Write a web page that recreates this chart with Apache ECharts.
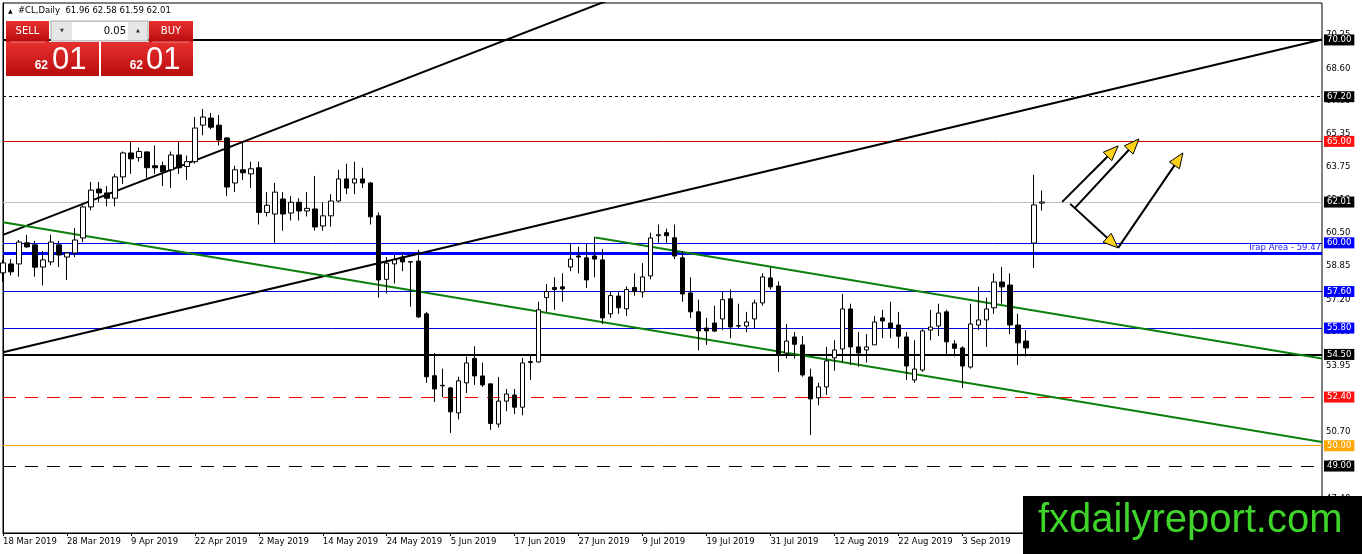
<!DOCTYPE html>
<html>
<head>
<meta charset="utf-8">
<title>#CL,Daily</title>
<script src="https://cdn.jsdelivr.net/npm/echarts@6.0.0/dist/echarts.min.js"></script>
<style>
  *{margin:0;padding:0;}
  html,body{width:1362px;height:554px;background:#fff;overflow:hidden;}
  #main{width:1362px;height:554px;}
</style>
</head>
<body>
<div id="main"></div>
<script>
var FONT = "'DejaVu Sans', sans-serif";

// date labels, one every 8 bars
var dateLabels = ['18 Mar 2019', '28 Mar 2019', '9 Apr 2019', '22 Apr 2019', '2 May 2019',
  '14 May 2019', '24 May 2019', '5 Jun 2019', '17 Jun 2019', '27 Jun 2019', '9 Jul 2019',
  '19 Jul 2019', '31 Jul 2019', '12 Aug 2019', '22 Aug 2019', '3 Sep 2019'];
var slotCount = 166; // bars + empty space on the right

// daily OHLC
var opens = [58.52,58.96,58.96,60.00,59.90,58.81,59.06,59.90,59.30,59.50,
  60.24,61.77,62.65,62.46,62.20,63.25,64.43,64.20,64.48,63.80,
  63.80,63.60,64.33,63.76,64.00,65.80,66.15,65.80,65.17,62.95,
  63.60,63.40,63.70,61.50,61.42,62.16,61.47,62.00,61.57,61.67,
  60.83,61.33,62.06,63.15,62.95,63.15,62.95,61.33,58.20,58.96,
  59.30,59.05,59.10,56.50,53.45,52.98,52.85,51.62,53.10,54.30,
  53.44,53.05,51.07,52.20,52.50,51.90,54.10,54.13,57.30,57.80,
  57.83,58.81,59.35,59.26,59.35,59.16,56.50,57.38,56.75,57.80,
  57.58,58.37,60.35,60.50,60.25,59.26,57.53,56.60,55.80,56.05,
  56.25,57.24,55.90,55.90,56.25,57.04,58.27,57.87,54.57,55.36,
  54.97,53.39,52.36,52.90,54.33,54.77,56.74,54.87,54.72,54.97,
  56.30,56.05,55.95,55.36,53.24,53.73,55.70,55.90,56.60,55.02,
  54.82,53.88,55.95,56.20,56.80,58.07,57.92,55.95,55.16,59.99,
  61.96];
var closes = [59.01,58.57,60.04,59.80,58.80,59.16,60.04,59.40,59.50,60.14,
  61.77,62.60,62.46,62.20,63.25,64.43,64.14,64.50,63.70,63.70,
  63.50,64.33,63.70,64.00,65.66,66.20,65.70,65.07,62.75,63.60,
  63.45,63.65,61.50,61.85,62.50,61.42,62.00,61.57,61.70,60.78,
  61.33,62.06,63.15,62.70,63.15,62.95,61.28,58.17,59.00,59.16,
  59.06,59.07,56.35,53.40,52.80,52.95,51.67,53.20,54.08,53.44,
  53.00,51.10,52.20,52.55,51.90,54.08,54.15,56.70,57.60,57.70,
  57.73,59.20,59.30,58.17,59.20,56.30,57.40,56.80,57.70,57.60,
  58.32,60.24,60.40,60.35,59.35,57.48,56.60,55.66,55.66,55.65,
  57.20,55.85,55.92,56.10,57.04,58.32,57.83,54.48,55.16,55.00,
  53.49,52.31,52.90,54.18,54.72,56.74,54.87,54.57,54.87,56.10,
  56.15,55.80,55.40,53.93,53.78,55.66,55.85,56.54,55.12,54.80,
  53.93,56.00,56.20,56.74,58.07,57.83,55.95,55.07,54.82,61.87,
  62.01];
var lows = [58.07,58.40,58.33,59.75,58.33,57.90,58.90,58.80,58.17,59.30,
  60.04,61.60,62.00,61.80,61.80,62.90,63.40,64.00,63.20,63.40,
  62.80,62.70,63.40,63.10,63.90,65.30,65.60,64.80,62.30,62.50,
  63.10,62.70,60.90,61.30,60.00,60.60,61.10,61.10,61.30,60.60,
  60.60,60.80,62.00,62.40,62.40,62.70,60.90,57.30,57.50,58.00,
  58.60,56.85,56.30,53.10,52.16,52.40,50.63,51.30,52.60,53.00,
  52.90,50.78,50.90,51.70,51.56,51.50,53.24,54.10,56.60,56.70,
  57.10,58.60,58.50,57.77,58.30,56.00,56.30,56.50,56.40,57.40,
  57.30,58.20,60.00,60.00,59.20,57.10,56.30,54.70,54.97,55.60,
  55.70,55.30,55.80,55.60,55.80,56.90,57.70,53.64,54.30,54.30,
  53.40,50.53,52.00,52.50,53.70,54.10,53.98,53.90,54.10,54.97,
  55.30,55.30,54.80,53.24,53.10,53.65,55.20,55.40,54.50,54.40,
  52.85,53.80,55.70,54.87,56.50,57.00,55.50,53.98,54.40,58.76,
  61.59];
var highs = [59.15,59.20,60.14,60.39,60.10,59.60,60.40,60.10,59.55,60.73,
  61.85,63.00,63.00,62.80,63.40,64.50,65.00,64.70,64.50,64.80,
  64.00,64.50,65.00,64.30,66.20,66.60,66.40,66.30,65.20,63.80,
  65.00,64.00,64.00,62.50,62.95,62.50,62.30,62.20,62.50,63.30,
  62.00,62.40,63.60,63.90,64.00,63.70,63.00,61.50,59.30,59.40,
  59.50,59.10,59.65,56.60,54.57,53.80,52.90,53.40,54.40,54.90,
  54.10,53.05,53.39,52.80,52.80,54.33,54.50,57.10,57.97,58.30,
  58.50,60.00,59.80,59.96,60.30,59.70,57.60,57.60,57.85,58.50,
  59.00,60.50,60.90,60.70,60.90,59.60,58.30,57.20,56.30,56.90,
  57.60,57.70,57.00,56.60,57.20,58.50,58.80,58.10,56.00,55.60,
  55.40,53.80,53.10,54.87,55.20,57.48,57.00,55.60,55.50,56.40,
  56.70,57.10,56.60,55.60,55.20,55.75,56.70,57.00,56.70,55.20,
  54.90,57.00,57.83,57.30,58.50,58.81,58.50,56.50,55.70,63.35,
  62.58];

// price scale
var yTicks = [47.40, 49.05, 50.70, 52.30, 53.95, 55.60, 57.20, 58.85,
  60.50, 62.10, 63.75, 65.35, 67.00, 68.60, 70.25];
var yMin = 45.70, yMax = 71.82;

// horizontal levels
var levelValues = [70.00, 67.20, 65.00, 62.01, 60.00, 59.47, 57.60, 55.80, 54.50, 52.40, 50.00, 49.00];
var trapLabel = 'Trap Area - 59.47';

// trend lines: [bar index, price]
var trendUp1 = [[0, 60.39], [80, 72.61]];
var trendUp2 = [[0, 54.61], [165, 70.02]];
var channelLow = [[0, 61.02], [165, 50.19]];
var channelHigh = [[74.1, 60.26], [165, 54.30]];

// arrows: [fromIndex, fromPrice, toIndex, toPrice]
var arrows = [
  [132.5, 62.02, 139.5, 64.78],
  [134.1, 61.72, 142.1, 65.12],
  [133.5, 61.92, 139.5, 59.75],
  [139.5, 59.75, 147.6, 64.43]
];

// styles for the levels (same order as levelValues)
var levelStyles = [
  { color: '#000000', width: 2, type: 'solid', box: '#000000' },
  { color: '#000000', width: 1, type: [3, 3], box: '#000000' },
  { color: '#d00000', width: 1, type: 'solid', box: '#ff1010' },
  { color: '#c0c0c0', width: 1, type: 'solid', box: '#000000' },
  { color: '#0000ff', width: 1, type: 'solid', box: '#0000ff' },
  { color: '#0000ff', width: 3, type: 'solid', box: null },
  { color: '#0000e0', width: 1, type: 'solid', box: '#0000ff' },
  { color: '#0000e0', width: 1, type: 'solid', box: '#0000ff' },
  { color: '#000000', width: 2, type: 'solid', box: '#000000' },
  { color: '#ff0000', width: 1, type: [13, 9], box: '#ff1010' },
  { color: '#ffa500', width: 1, type: 'solid', box: '#ffa500' },
  { color: '#000000', width: 1, type: [13, 9], box: '#000000' }
];

var slots = [];
for (var i = 0; i < slotCount; i++) slots.push(String(i));

var candles = opens.map(function (o, k) {
  return [o, closes[k], lows[k], highs[k]];
});

var levelLines = levelValues.map(function (v, k) {
  var s = levelStyles[k];
  var label;
  if (s.box) {
    label = {
      show: true, position: 'end', distance: 2,
      formatter: v.toFixed(2),
      color: '#fff', fontFamily: FONT, fontSize: 8.5,
      backgroundColor: s.box, padding: [1, 3, 0, 3], lineHeight: 10
    };
  } else {
    label = {
      show: true, position: 'insideEndTop', distance: 1,
      formatter: trapLabel,
      color: '#1a1aff', fontFamily: FONT, fontSize: 8.5
    };
  }
  return {
    yAxis: v,
    lineStyle: { color: s.color, width: s.width, type: s.type, opacity: 1 },
    label: label
  };
});

function trend(data, color) {
  return {
    type: 'line', xAxisIndex: 1, yAxisIndex: 0,
    data: data, symbol: 'none', silent: true, z: 4,
    lineStyle: { color: color, width: 2 }
  };
}

var chart = echarts.init(document.getElementById('main'), null, { renderer: 'canvas' });

function red() {
  return new echarts.graphic.LinearGradient(0, 0, 0, 1, [
    { offset: 0, color: '#e83030' }, { offset: 1, color: '#b80c0c' }
  ]);
}
var last = opens.length - 1;
var bid = closes[last].toFixed(2).split('.');

var option = {
  animation: false,
  backgroundColor: '#ffffff',
  grid: {
    left: 3, right: 40, top: 3, bottom: 21,
    show: true, borderColor: '#000', borderWidth: 1, backgroundColor: '#fff'
  },
  xAxis: [{
    type: 'category', data: slots, boundaryGap: false,
    axisLine: { lineStyle: { color: '#000', width: 1 } },
    axisTick: { show: true, interval: 7, length: 3, lineStyle: { color: '#000' } },
    axisLabel: {
      interval: 7, align: 'left', margin: 4,
      color: '#000', fontFamily: FONT, fontSize: 8.5,
      formatter: function (val, idx) { return dateLabels[idx / 8] || ''; }
    },
    splitLine: { show: false }
  }, {
    type: 'value', min: 0, max: slotCount - 1, show: false
  }],
  yAxis: {
    type: 'value', position: 'right', min: yMin, max: yMax, scale: true,
    axisLine: { show: true, lineStyle: { color: '#000', width: 1 } },
    axisTick: { show: false },
    axisLabel: {
      customValues: yTicks, margin: 4, color: '#000', fontFamily: FONT, fontSize: 8.5,
      formatter: function (v) { return v.toFixed(2); }
    },
    splitLine: { show: false }
  },
  series: [{
    type: 'candlestick', xAxisIndex: 0, yAxisIndex: 0,
    data: candles, barWidth: 5, z: 5,
    itemStyle: {
      color: '#ffffff', color0: '#000000',
      borderColor: '#000000', borderColor0: '#000000', borderWidth: 1
    },
    markLine: {
      silent: true, symbol: 'none', animation: false, z: 3,
      data: levelLines
    }
  },
  trend(trendUp1, '#000000'),
  trend(trendUp2, '#000000'),
  trend(channelLow, '#0a800a'),
  trend(channelHigh, '#0a800a'),
  {
    type: 'custom', xAxisIndex: 1, yAxisIndex: 0, silent: true, z: 6,
    data: arrows,
    encode: { x: [0, 2], y: [1, 3] },
    renderItem: function (params, api) {
      var p1 = api.coord([api.value(0), api.value(1)]);
      var p2 = api.coord([api.value(2), api.value(3)]);
      var a = Math.atan2(p2[1] - p1[1], p2[0] - p1[0]);
      var c = Math.cos(a), s = Math.sin(a);
      var L = 15, W = 6;
      var bx = p2[0] - L * c, by = p2[1] - L * s;
      return {
        type: 'group',
        children: [{
          type: 'line',
          shape: { x1: p1[0], y1: p1[1], x2: bx, y2: by },
          style: { stroke: '#000', lineWidth: 2 }
        }, {
          type: 'polygon',
          shape: { points: [[p2[0], p2[1]], [bx - W * s, by + W * c], [bx + W * s, by - W * c]] },
          style: { fill: '#ffd21a', stroke: '#000', lineWidth: 1 }
        }]
      };
    }
  }],
  graphic: [
    { type: 'text', x: 8, y: 11, z: 100, style: { text: '\u25B2', fill: '#000', font: '6px ' + FONT, verticalAlign: 'middle' } },
    { type: 'text', x: 18, y: 11, z: 100, style: {
      text: '#CL,Daily  ' + [opens[last], highs[last], lows[last], closes[last]].map(function (v) { return v.toFixed(2); }).join(' '),
      fill: '#000', font: '8.5px ' + FONT, verticalAlign: 'middle' } },
    // sell / buy panel
    { type: 'rect', z: 100, shape: { x: 6, y: 21, width: 43, height: 21 }, style: { fill: red() } },
    { type: 'rect', z: 100, shape: { x: 149, y: 21, width: 44, height: 21 }, style: { fill: red() } },
    { type: 'rect', z: 100, shape: { x: 6, y: 42, width: 93, height: 34 }, style: { fill: red() } },
    { type: 'rect', z: 100, shape: { x: 101, y: 42, width: 92, height: 34 }, style: { fill: red() } },
    { type: 'line', z: 101, shape: { x1: 10, y1: 42, x2: 46, y2: 42 }, style: { stroke: '#f08080', lineWidth: 1 } },
    { type: 'line', z: 101, shape: { x1: 152, y1: 42, x2: 190, y2: 42 }, style: { stroke: '#f08080', lineWidth: 1 } },
    { type: 'text', x: 27.5, y: 31, z: 101, style: { text: 'SELL', fill: '#fff', font: '10px ' + FONT, align: 'center', verticalAlign: 'middle' } },
    { type: 'text', x: 171, y: 31, z: 101, style: { text: 'BUY', fill: '#fff', font: '10px ' + FONT, align: 'center', verticalAlign: 'middle' } },
    { type: 'rect', z: 100, shape: { x: 51, y: 21, width: 97, height: 20 }, style: { fill: '#e6e6e6', stroke: '#a8a8a8', lineWidth: 1 } },
    { type: 'rect', z: 101, shape: { x: 72, y: 22, width: 56, height: 18 }, style: { fill: '#ffffff' } },
    { type: 'text', x: 62, y: 31, z: 101, style: { text: '\u25BC', fill: '#333', font: '5px ' + FONT, align: 'center', verticalAlign: 'middle' } },
    { type: 'text', x: 138, y: 31, z: 101, style: { text: '\u25B2', fill: '#333', font: '5px ' + FONT, align: 'center', verticalAlign: 'middle' } },
    { type: 'text', x: 126, y: 31, z: 101, style: { text: '0.05', fill: '#000', font: '10px ' + FONT, align: 'right', verticalAlign: 'middle' } },
    { type: 'text', x: 48, y: 66, z: 101, style: { text: bid[0], fill: '#fff', font: 'bold 12px Liberation Sans', align: 'right', verticalAlign: 'middle' } },
    { type: 'text', x: 52, y: 60, z: 101, style: { text: bid[1], fill: '#fff', font: '31px Liberation Sans', verticalAlign: 'middle' } },
    { type: 'text', x: 143, y: 66, z: 101, style: { text: bid[0], fill: '#fff', font: 'bold 12px Liberation Sans', align: 'right', verticalAlign: 'middle' } },
    { type: 'text', x: 146, y: 60, z: 101, style: { text: bid[1], fill: '#fff', font: '31px Liberation Sans', verticalAlign: 'middle' } },
    // watermark
    { type: 'rect', z: 110, shape: { x: 1023, y: 496, width: 339, height: 58 }, style: { fill: '#000' } },
    { type: 'text', x: 1038, y: 521, z: 111, style: { text: 'fxdailyreport.com', fill: '#3fd42a', font: '40px Liberation Sans', verticalAlign: 'middle' } }
  ]
};

chart.setOption(option);
</script>
</body>
</html>
